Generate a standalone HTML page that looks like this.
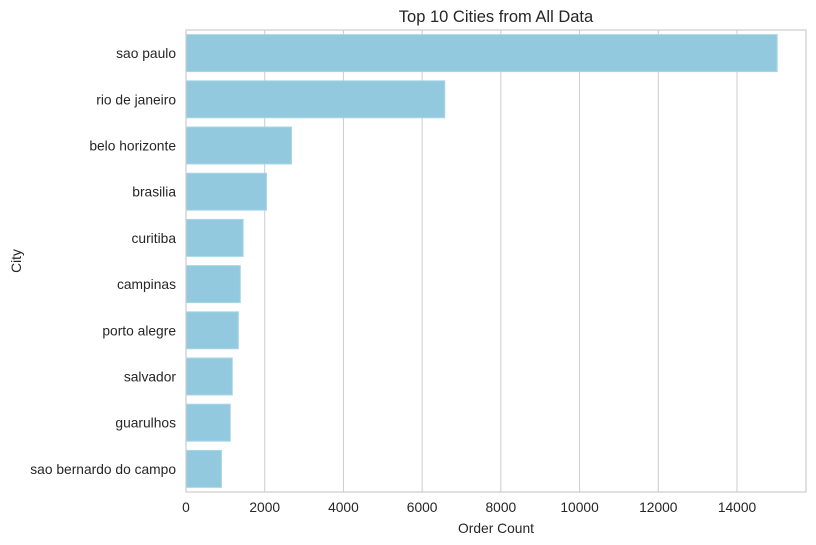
<!DOCTYPE html>
<html><head><meta charset="utf-8"><style>
html,body{margin:0;padding:0;background:#fff;}
svg{display:block;font-family:"Liberation Sans",Arial,sans-serif;}
</style></head><body>
<svg id="chart" width="816" height="545"></svg>
<script>
const categories=["sao paulo","rio de janeiro","belo horizonte","brasilia","curitiba","campinas","porto alegre","salvador","guarulhos","sao bernardo do campo"];
const orderCounts=[15020,6575,2680,2045,1452,1380,1330,1176,1125,900];
const xTicks=[0,2000,4000,6000,8000,10000,12000,14000];
const xMax=15753;
const L=186,R=806,T=30,B=492;
const NS="http://www.w3.org/2000/svg";
const svg=document.getElementById('chart');
function x(v){return L+(v/xMax)*(R-L);}
const band=(B-T)/categories.length;
function yC(i){return T+band*(i+0.5);}
function mk(tag,attrs,txt){const e=document.createElementNS(NS,tag);for(const k in attrs)e.setAttribute(k,attrs[k]);if(txt!==undefined)e.textContent=txt;svg.appendChild(e);return e;}
xTicks.forEach(t=>{
 const g=mk('line',{x1:x(t),x2:x(t),y1:T,y2:B,stroke:'#cccccc','stroke-width':1});
 
 
 const l=mk('text',{x:x(t),y:B+20,'text-anchor':'middle','font-size':13.8,fill:'#262626'},String(t));
 
 
});
categories.forEach((c,i)=>{
 const h=band*0.8;
 const r=mk('rect',{x:L,y:yC(i)-h/2,width:x(orderCounts[i])-L,height:h,fill:'#92c9df',stroke:'#a8d6e8','stroke-width':1});
 
 
 const l=mk('text',{x:L-10,y:yC(i)+5,'text-anchor':'end','font-size':13.8,fill:'#262626'},c);
 
 
});
const f=mk('rect',{x:L,y:T,width:R-L,height:B-T,fill:'none',stroke:'#cccccc','stroke-width':1.2});


const ti=mk('text',{x:(L+R)/2,y:22,'text-anchor':'middle','font-size':16.5,fill:'#262626'},'Top 10 Cities from All Data');


const xt=mk('text',{x:(L+R)/2,y:533,'text-anchor':'middle','font-size':13.8,fill:'#262626'},'Order Count');


const yt=mk('text',{x:21,y:(T+B)/2,'text-anchor':'middle','font-size':13.8,fill:'#262626',transform:'rotate(-90 21 '+((T+B)/2)+')'},'City');


</script>
</body></html>
